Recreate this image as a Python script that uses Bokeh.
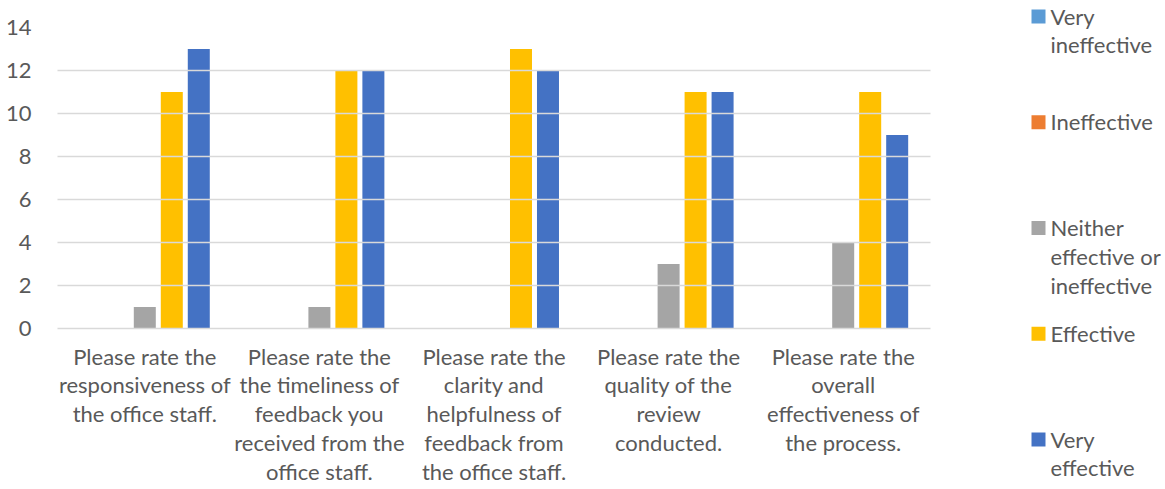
from bokeh.plotting import figure
from bokeh.models import FactorRange, Range1d, FixedTicker, ColumnDataSource
from bokeh.transform import dodge
from bokeh.layouts import row
from bokeh.core.properties import value
from bokeh.embed import file_html
from bokeh.resources import INLINE

categories = [
    "Please rate the\nresponsiveness of\nthe office staff.",
    "Please rate the\nthe timeliness of\nfeedback you\nreceived from the\noffice staff.",
    "Please rate the\nclarity and\nhelpfulness of\nfeedback from\nthe office staff.",
    "Please rate the\nquality of the\nreview\nconducted.",
    "Please rate the\noverall\neffectiveness of\nthe process.",
]
series = ["Very ineffective", "Ineffective", "Neither effective or ineffective", "Effective", "Very effective"]
legend_labels = ["Very\nineffective", "Ineffective", "Neither\neffective or\nineffective", "Effective", "Very\neffective"]
colors = ["#5B9BD5", "#ED7D31", "#A5A5A5", "#FFC000", "#4472C4"]

very_ineffective = [0, 0, 0, 0, 0]
ineffective = [0, 0, 0, 0, 0]
neither = [1, 1, 0, 3, 4]
effective = [11, 12, 13, 11, 11]
very_effective = [13, 12, 12, 11, 9]
y_ticks = [0, 2, 4, 6, 8, 10, 12, 14]

values = [very_ineffective, ineffective, neither, effective, very_effective]

FONT = "Lato"
TXT = "#595959"
GRID = "#d9d9d9"
LH = 1.07
H = 488

data = {"cat": categories}
for s, v in zip(series, values):
    data[s] = v
src = ColumnDataSource(data)

p = figure(x_range=FactorRange(*categories), y_range=Range1d(0, 14),
           width=968, height=H, output_backend="svg", toolbar_location=None,
           min_border_left=57, min_border_right=38, min_border_top=27, min_border_bottom=159)
p.frame_align = False

slot = 0.1546
bw = 0.126
for i, (s, c) in enumerate(zip(series, colors)):
    p.vbar(x=dodge("cat", (i - 2) * slot, range=p.x_range), top=s, width=bw,
           source=src, fill_color=c, line_color=None)

p.outline_line_color = None
p.xgrid.grid_line_color = None
p.ygrid.ticker = FixedTicker(ticks=y_ticks)
p.ygrid.grid_line_color = GRID
p.ygrid.grid_line_width = 1.3
p.ygrid.level = "overlay"

p.yaxis.ticker = FixedTicker(ticks=y_ticks)
p.yaxis.axis_line_color = None
p.yaxis.major_tick_line_color = None
p.yaxis.minor_tick_line_color = None
p.yaxis.major_tick_out = 0
p.yaxis.major_tick_in = 0
p.yaxis.major_label_standoff = 26
p.yaxis.major_label_text_font = FONT
p.yaxis.major_label_text_font_size = "22px"
p.yaxis.major_label_text_color = TXT

p.xaxis.axis_line_color = GRID
p.xaxis.axis_line_width = 1.3
p.xaxis.major_tick_line_color = None
p.xaxis.major_tick_out = 0
p.xaxis.major_tick_in = 0
p.xaxis.major_label_standoff = 14
p.xaxis.major_label_text_font = FONT
p.xaxis.major_label_text_font_size = "22px"
p.xaxis.major_label_text_color = TXT
p.xaxis.major_label_text_line_height = LH
p.xaxis.major_label_orientation = "horizontal"

# legend panel
lw = 195
lg = figure(width=lw, height=H, x_range=Range1d(0, lw), y_range=Range1d(H, 0),
            output_backend="svg", toolbar_location=None, min_border=0)
lg.frame_align = False
lg.axis.visible = False
lg.grid.visible = False
lg.outline_line_color = None
top0 = 16
step = 105.75
ys = [top0 + i * step for i in range(len(series))]
lsrc = ColumnDataSource(dict(x=[70] * 5, tx=[82] * 5, y=ys, ty=[y - 14 for y in ys],
                             label=legend_labels, color=colors))
lg.scatter(x="x", y="y", size=14, marker="square", fill_color="color", line_color=None, source=lsrc)
lg.text(x="tx", y="ty", text="label", source=lsrc, text_font=value(FONT), text_font_size="22px",
        text_color=TXT, text_baseline="top", text_align="left", text_line_height=LH)

layout = row(p, lg)
open("out.html", "w").write(file_html(layout, INLINE))
